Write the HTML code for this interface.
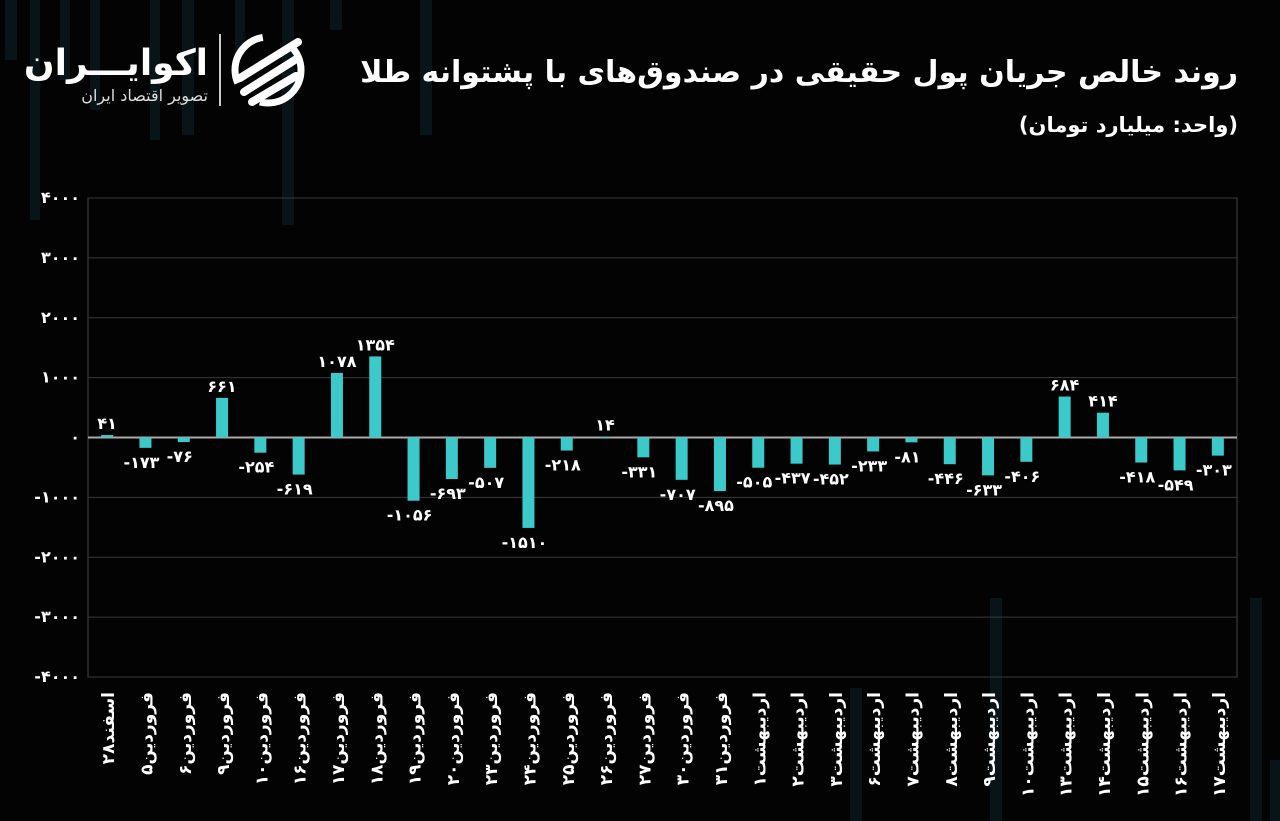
<!DOCTYPE html>
<html><head><meta charset="utf-8">
<style>
html,body{margin:0;padding:0;background:#030303;}
svg{display:block;font-family:"Liberation Sans","DejaVu Sans","Noto Sans CJK SC",sans-serif;}
</style></head>
<body>
<svg id="chart" width="1280" height="821" viewBox="0 0 1280 821">
<rect width="1280" height="821" fill="#030303"/>
<g id="deco" fill="#0a161b" opacity="0.9">
<rect x="5" y="0" width="12" height="60"/><rect x="30" y="0" width="10" height="220"/><rect x="60" y="0" width="10" height="80"/>
<rect x="90" y="0" width="10" height="110"/><rect x="150" y="0" width="10" height="140"/><rect x="182" y="0" width="12" height="135"/>
<rect x="235" y="0" width="10" height="55"/><rect x="282" y="0" width="12" height="225"/><rect x="330" y="0" width="12" height="30"/>
<rect x="420" y="0" width="12" height="135"/><rect x="990" y="598" width="12" height="223"/><rect x="850" y="688" width="12" height="133"/>
<rect x="1250" y="598" width="12" height="223"/><rect x="1270" y="760" width="10" height="61"/>
</g>
<text x="1238" y="82" text-anchor="start" direction="rtl" fill="#fff" font-size="30" font-weight="bold" font-family="'DejaVu Sans','Noto Sans CJK SC',sans-serif">روند خالص جریان پول حقیقی در صندوق‌های با پشتوانه طلا</text>
<text x="1238" y="132" text-anchor="start" direction="rtl" fill="#fff" font-size="21" font-weight="bold" font-family="'DejaVu Sans',sans-serif">(واحد: میلیارد تومان)</text>
<g>
<text x="208" y="75" text-anchor="end" fill="#fff" font-size="36" font-weight="bold" font-family="'DejaVu Sans',sans-serif">اکوایـــران</text>
<text x="208" y="101" text-anchor="end" fill="#ddd" font-size="16" font-family="'DejaVu Sans',sans-serif">تصویر اقتصاد ایران</text>
<rect x="219" y="34" width="2" height="72" fill="#ccc"/>
<circle cx="268" cy="70" r="33" fill="none" stroke="#fff" stroke-width="7" stroke-dasharray="60 30"/>
<path d="M240 78 L298 42 M244 92 L298 58 M252 102 L296 76" stroke="#fff" stroke-width="8" stroke-linecap="round"/>
</g>
<g id="grid"></g><g id="bars"></g><g id="labels"></g><g id="yticks"></g><g id="xticks"></g>
</svg>
<script>
const categories=["اسفند۲۸","فروردین۵","فروردین۶","فروردین۹","فروردین۱۰","فروردین۱۶","فروردین۱۷","فروردین۱۸","فروردین۱۹","فروردین۲۰","فروردین۲۳","فروردین۲۴","فروردین۲۵","فروردین۲۶","فروردین۲۷","فروردین۳۰","فروردین۳۱","اردیبهشت۱","اردیبهشت۲","اردیبهشت۳","اردیبهشت۶","اردیبهشت۷","اردیبهشت۸","اردیبهشت۹","اردیبهشت۱۰","اردیبهشت۱۳","اردیبهشت۱۴","اردیبهشت۱۵","اردیبهشت۱۶","اردیبهشت۱۷"];
const values=[41,-173,-76,661,-254,-619,1078,1354,-1056,-693,-507,-1510,-218,14,-331,-707,-895,-505,-437,-452,-233,-81,-446,-633,-406,684,414,-418,-549,-303];
const yTicks=[4000,3000,2000,1000,0,-1000,-2000,-3000,-4000];
const NS="http://www.w3.org/2000/svg";
const L=88,R=1237,T=198,B=677,yMin=-4000,yMax=4000;
const y=v=>T+(yMax-v)/(yMax-yMin)*(B-T);
const band=(R-L)/categories.length;
const x=i=>L+band*(i+0.5);
const fa=s=>String(s).replace(/\d/g,d=>"۰۱۲۳۴۵۶۷۸۹"[d]);
function mk(tag,attrs,parent){const e=document.createElementNS(NS,tag);for(const k in attrs)e.setAttribute(k,attrs[k]);document.getElementById(parent).appendChild(e);return e;}
const frame=mk("rect",{x:L,y:T,width:R-L,height:B-T,fill:"none",stroke:"#444","stroke-width":1},"grid");


yTicks.forEach(t=>{
  const ln=mk("line",{x1:L,x2:R,y1:y(t),y2:y(t),stroke:t===0?"#aaa":"#3a3a3a","stroke-width":t===0?2:1},"grid");
  
  
  const tx=mk("text",{x:80,y:y(t)+5,"text-anchor":"end",fill:"#fff","font-size":16,"font-weight":"bold","font-family":"'DejaVu Sans',sans-serif"},"yticks");
  tx.textContent=(t<0?"-":"")+fa(Math.abs(t));
  
  
});
const bw=12;
values.forEach((v,i)=>{
  const y0=y(0),yv=y(v);
  const r=mk("rect",{x:x(i)-bw/2,y:Math.min(y0,yv),width:bw,height:Math.max(Math.abs(yv-y0),0.5),fill:"#3cc9c9"},"bars");
  
  
  const lt=mk("text",{x:x(i)-(v<0?4:0),y:v<0?yv+20:yv-6,"text-anchor":"middle",fill:"#fff","font-size":16,"font-weight":"bold","font-family":"'DejaVu Sans',sans-serif"},"labels");
  lt.textContent=(v<0?"-":"")+fa(Math.abs(v));
  
  
  const xt=mk("text",{transform:`translate(${x(i)+7},692) rotate(-90)`,"text-anchor":"end",fill:"#fff","font-size":17,"font-weight":"bold","font-family":"'DejaVu Sans',sans-serif"},"xticks");
  xt.textContent=categories[i];
  
  
});
</script>
</body></html>
